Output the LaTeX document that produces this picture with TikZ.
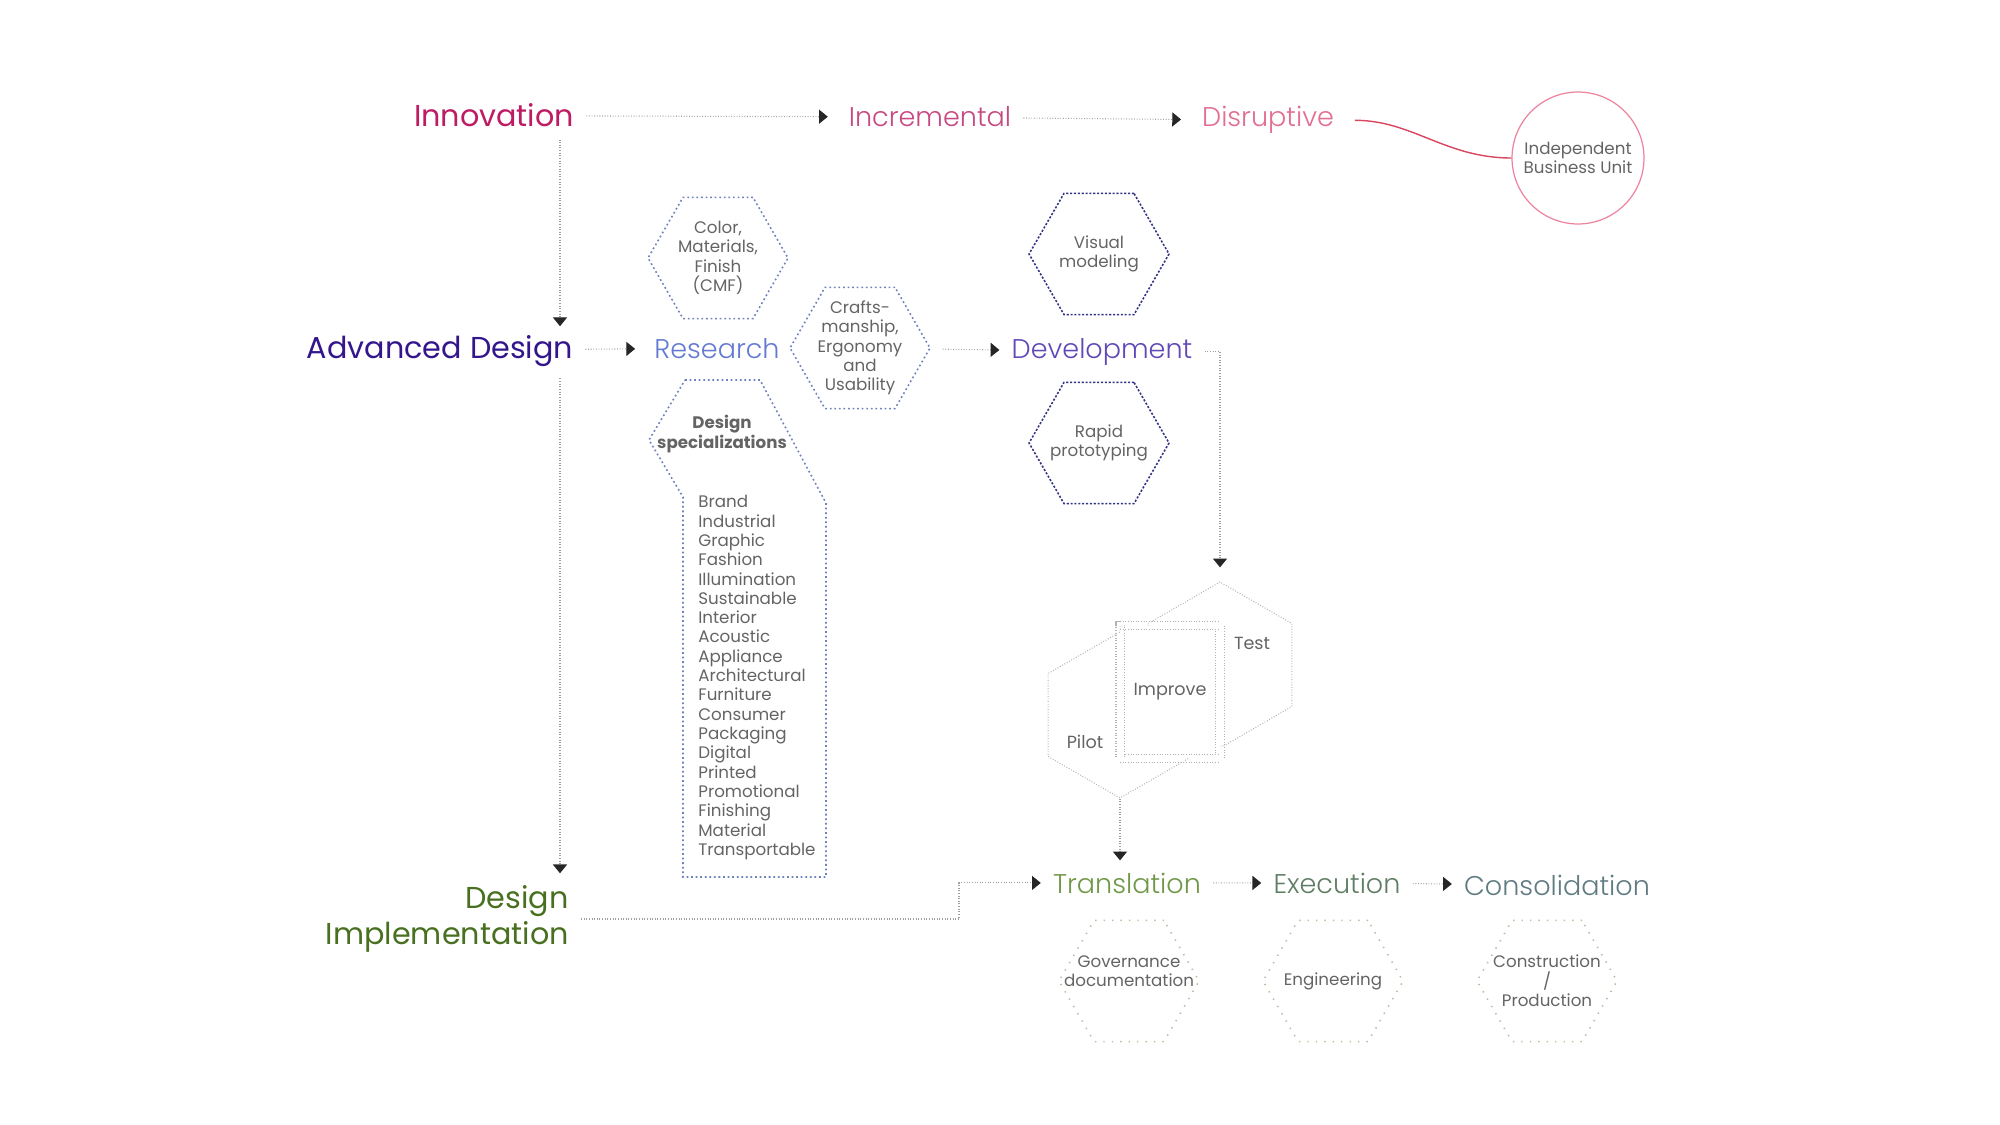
\documentclass[tikz,border=0pt]{standalone}
\usepackage{fontspec}
\setmainfont{Poppins}
\newfontfamily\lightfont{Poppins Light}
\usetikzlibrary{arrows.meta,positioning,shapes.geometric}
\definecolor{innovred}{RGB}{190,28,98}
\definecolor{incrpink}{RGB}{200,72,130}
\definecolor{disrpink}{RGB}{226,110,146}
\definecolor{ibupink}{RGB}{236,132,158}
\definecolor{linkred}{RGB}{216,70,96}
\definecolor{advindigo}{RGB}{52,22,140}
\definecolor{resblue}{RGB}{100,122,210}
\definecolor{devpurple}{RGB}{96,72,182}
\definecolor{implgreen}{RGB}{72,112,32}
\definecolor{transgreen}{RGB}{112,152,72}
\definecolor{execgreen}{RGB}{96,126,100}
\definecolor{consteal}{RGB}{96,124,130}
\definecolor{hexblue}{RGB}{112,130,190}
\definecolor{hexnavy}{RGB}{52,52,132}
\definecolor{hexsand}{RGB}{196,186,160}
\definecolor{txtgray}{RGB}{100,100,100}

\tikzset{
  mainlbl/.style={font=\fontsize{17.2}{20.5}\selectfont, anchor=base, inner sep=2pt, outer sep=5pt},
  sublbl/.style={font=\fontsize{15.4}{18}\selectfont\lightfont, anchor=base, inner sep=2pt, outer sep=5pt},
  flow/.style={draw=gray!75, line width=0.6pt, dash pattern=on 0.5pt off 1pt,
    -{Triangle[length=5pt,width=8pt,color=black!85]}},
  hextext/.style={font=\fontsize{9.5}{11}\selectfont, text=txtgray, align=center, inner sep=0pt},
  hexa/.style={regular polygon, regular polygon sides=6, minimum size=2.8cm, inner sep=0pt,
    draw=hexblue, line width=0.9pt, dash pattern=on 1pt off 1.6pt},
  hexdev/.style={hexa, draw=hexnavy, dash pattern=on 1.2pt off 1pt},
  hexout/.style={hexa, draw=hexsand, dash pattern=on 0.8pt off 4pt},
  cyclehex/.style={regular polygon, regular polygon sides=6, shape border rotate=30,
    minimum size=3.32cm, inner sep=0pt, draw=gray!60, fill=white, line width=0.6pt,
    dash pattern=on 0.5pt off 1pt},
  improvebox/.style={rectangle, minimum width=2cm, minimum height=2.66cm, fill=white,
    draw=gray!60, line width=0.6pt, dash pattern=on 0.5pt off 1pt, double, double distance=4pt,
    font=\fontsize{10}{12}\selectfont, text=txtgray}
}

\begin{document}
\begin{tikzpicture}[x=0.02cm,y=-0.02cm]
\useasboundingbox (0,0) rectangle (2000,1125);
\coordinate (trunk) at (560,0);
% Innovation row
\node[mainlbl, text=innovred] (innov) at (494,127) {Innovation};
\node[sublbl, text=incrpink] (incr) at (930,127) {Incremental};
\node[sublbl, text=disrpink] (disr) at (1268,127) {Disruptive};
\node[circle, draw=ibupink, line width=0.7pt, minimum size=2.64cm, hextext] (ibu) at (1578,158) {Independent\\Business Unit};
\draw[flow, shorten >=5pt] (innov) -- (incr);
\draw[flow, shorten >=5pt] (incr) -- (disr);
\draw[linkred, line width=0.8pt, shorten <=5pt] (disr) to[out=0,in=180] (ibu);
% Advanced design row
\node[mainlbl, text=advindigo] (adv) at (440,358) {Advanced Design};
\node[sublbl, text=resblue] (research) at (717,358) {Research};
\node[sublbl, text=devpurple] (dev) at (1102,358) {Development};
\draw[flow, shorten >=-2pt] (innov.south -| trunk) -- (adv.north -| trunk);
\draw[flow, shorten >=4pt] (adv) -- (research);
\node[hexa] (cmf) at (718,258) {};
\node[hextext] (cmftxt) at (cmf) {Color,\\Materials,\\Finish\\(CMF)};
\node[hexa] (crafts) at (860,348) {};
\node[hextext] (craftstxt) at (crafts) {Crafts-\\manship,\\Ergonomy\\and\\Usability};
\draw[flow, shorten <=7pt] (crafts) -- (dev);
\node[hexdev] (visual) at (1099,254) {};
\node[hextext] (visualtxt) at (visual) {Visual\\modeling};
\node[hexdev] (rapid) at (1099,443) {};
\node[hextext] (rapidtxt) at (rapid) {Rapid\\prototyping};
% Design specializations
\draw[hexblue, line width=0.9pt, dash pattern=on 1pt off 1.6pt]
  (685,380) -- (760,380) -- (826,503) -- (826,877) -- (683,877) -- (683,497) -- (649,440) -- cycle;
\node[hextext, font=\fontsize{9.5}{11}\selectfont\bfseries] (spectitle) at (722,434) {Design\\specializations};
\node[hextext, anchor=north west, align=left] (speclist) at (698,495) {Brand\\Industrial\\Graphic\\Fashion\\Illumination\\Sustainable\\Interior\\Acoustic\\Appliance\\Architectural\\Furniture\\Consumer\\Packaging\\Digital\\Printed\\Promotional\\Finishing\\Material\\Transportable};
% Pilot / Improve / Test
\node[cyclehex] (pilot) at (1120,715) {};
\node[cyclehex] (test) at (1220,665) {};
\node[improvebox] (improve) at (1170,692) {Improve};
\node[hextext, font=\fontsize{10}{12}\selectfont] (testtxt) at (1252,643) {Test};
\node[hextext, font=\fontsize{10}{12}\selectfont] (pilottxt) at (1085,742) {Pilot};
\draw[flow, shorten >=8pt] (dev.east) -| (test.north);
% Implementation row
\node[mainlbl, anchor=east, align=right, text=implgreen] (impl) at (581,919) {Design\\Implementation};
\node[sublbl, text=transgreen] (trans) at (1127,893) {Translation};
\node[sublbl, text=execgreen] (exec) at (1337,893) {Execution};
\node[sublbl, text=consteal] (cons) at (1557,895) {Consolidation};
\draw[flow] (adv.south -| trunk) -- (impl.north -| trunk);
\draw[flow] (impl.east) -- ++(378,0) |- (trans.west);
\draw[flow] (pilot.south) -- (pilot.south |- trans.north);
\draw[flow] (trans) -- (exec);
\draw[flow] (exec) -- (cons);
\node[hexout] (gov) at (1129,981) {};
\node[hextext] (govtxt) at (1129,971) {Governance\\documentation};
\node[hexout] (eng) at (1333,981) {};
\node[hextext] (engtxt) at (eng) {Engineering};
\node[hexout] (prod) at (1547,981) {};
\node[hextext] (prodtxt) at (prod) {Construction\\/\\Production};
\end{tikzpicture}
\end{document}
